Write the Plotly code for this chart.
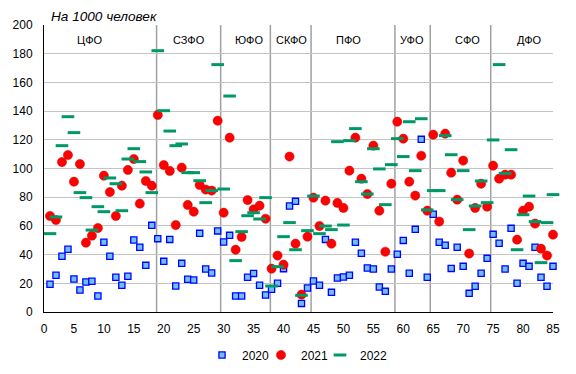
import plotly.graph_objects as go

# Region index (x position)
regions = list(range(1, 86))

v2020 = [19.3, 25.6, 38.8, 43.7, 23.0, 15.3, 20.9, 21.4, 11.2, 48.6,
         38.8, 24.2, 18.6, 24.9, 50.2, 45.1, 32.5, 60.4, 51.1, 35.3,
         50.6, 18.1, 33.9, 22.8, 22.3, 54.8, 30.0, 27.2, 56.5, 48.8,
         53.4, 11.2, 11.2, 24.2, 26.9, 18.6, 11.8, 15.8, 20.0, 30.2,
         73.9, 77.1, 6.0, 16.7, 21.6, 18.6, 50.6, 13.7, 23.7, 24.4,
         25.6, 48.6, 40.9, 30.7, 30.0, 17.4, 14.4, 30.0, 40.2, 49.9,
         27.0, 57.6, 120.3, 24.2, 68.1, 48.6, 46.5, 30.4, 45.1, 31.8,
         13.0, 17.9, 27.0, 37.4, 54.1, 47.9, 30.0, 58.3, 20.0, 33.9,
         31.8, 45.1, 24.2, 17.9, 31.8]

v2021 = [66.9, 64.1, 104.5, 109.4, 90.8, 103.1, 48.3, 53.2, 58.5, 95.0,
         83.6, 66.9, 88.0, 99.0, 106.6, 75.5, 91.3, 88.0, 137.3, 102.4,
         98.3, 60.6, 100.6, 74.6, 69.9, 88.5, 85.3, 84.6, 133.3, 69.2,
         121.5, 43.4, 52.3, 78.0, 71.5, 74.1, 65.0, 30.2, 39.3, 33.0,
         108.3, 47.6, 12.1, 52.5, 79.7, 59.9, 77.6, 47.6, 76.0, 72.5,
         98.5, 121.5, 92.9, 82.2, 115.9, 70.6, 42.0, 89.4, 132.6, 120.8,
         90.8, 81.1, 108.9, 70.6, 123.6, 63.0, 124.3, 97.1, 78.3, 105.5,
         40.7, 72.5, 89.4, 73.4, 102.0, 92.9, 95.7, 95.7, 50.4, 70.6,
         73.4, 61.6, 44.1, 39.3, 53.9]

v2022 = [54.6, 66.2, 115.9, 136.1, 125.0, 83.2, 79.7, 57.1, 73.4, 69.9,
         93.4, 89.4, 70.6, 106.6, 113.8, 104.8, 97.6, 83.2, 182.1, 140.3,
         126.1, 115.9, 117.1, 97.1, 97.1, 91.5, 76.2, 84.6, 172.4, 85.7,
         150.5, 35.8, 56.0, 67.1, 69.2, 64.8, 79.7, 18.1, 31.6, 52.5,
         62.3, 43.4, 11.6, 56.7, 80.8, 54.6, 59.9, 57.4, 118.7, 60.6,
         119.4, 127.8, 90.8, 82.2, 113.8, 99.7, 74.8, 102.7, 120.8, 108.3,
         132.6, 98.5, 134.7, 71.1, 84.6, 84.6, 122.9, 109.6, 78.3, 98.5,
         57.4, 73.9, 91.3, 76.2, 119.9, 172.4, 96.6, 113.1, 43.4, 67.8,
         80.8, 63.0, 34.4, 62.3, 81.8]

districts = ["ЦФО", "СЗФО", "ЮФО", "СКФО", "ПФО", "УФО", "СФО", "ДФО"]
district_label_x = [7.6, 24.2, 34.3, 41.4, 50.9, 61.5, 70.8, 81.0]
district_label_y = 189.8
dividers = [18.8, 29.5, 37.8, 44.6, 58.6, 64.5, 74.6]

x_ticks = list(range(0, 90, 5))
y_ticks = list(range(0, 220, 20))

FONT = "Arial, Liberation Sans, sans-serif"

fig = go.Figure()
fig.add_trace(go.Scatter(
    x=regions, y=v2020, mode="markers", name="2020", cliponaxis=False,
    marker=dict(symbol="square", size=6.2, color="#70c0ff",
                line=dict(color="#0000ff", width=1.3)),
))
fig.add_trace(go.Scatter(
    x=regions, y=v2021, mode="markers", name="2021", cliponaxis=False,
    marker=dict(symbol="circle", size=9.2, color="#ff0000",
                line=dict(color="#d00000", width=0.5)),
))
fig.add_trace(go.Scatter(
    x=regions, y=v2022, mode="markers", name="2022", cliponaxis=False,
    legendwidth=30,
    marker=dict(symbol="line-ew", size=9, color="#009966",
                line=dict(color="#009966", width=3)),
))

for d in dividers:
    fig.add_shape(type="line", xref="x", yref="y", x0=d, x1=d, y0=0, y1=200,
                  line=dict(color="#a0a0a0", width=1.5), layer="below")

for name, lx in zip(districts, district_label_x):
    fig.add_annotation(x=lx, y=district_label_y, xref="x", yref="y", text=name,
                       showarrow=False, font=dict(family=FONT, size=11, color="#000000"))

fig.update_layout(
    template="none",
    width=576, height=374,
    margin=dict(l=43.5, r=22.5, t=25, b=62, pad=0),
    paper_bgcolor="white", plot_bgcolor="white",
    font=dict(family=FONT, size=12, color="#000000"),
    title=dict(text="<i>На 1000 человек</i>", xref="container", yref="container",
               x=51 / 576, xanchor="left", y=1 - 16 / 374, yanchor="middle",
               font=dict(family=FONT, size=13.6, color="#000000")),
    showlegend=True,
    legend=dict(orientation="h", x=0.5, xanchor="center", xref="paper",
                yref="container", y=1 - 355 / 374, yanchor="middle",
                entrywidth=14, font=dict(family=FONT, size=12),
                bgcolor="rgba(0,0,0,0)", borderwidth=0),
    xaxis=dict(range=[0, 85], tickvals=x_ticks, showgrid=False, zeroline=False,
               showline=True, linecolor="#000000", linewidth=1, ticks="",
               automargin=False, ticklabelstandoff=6,
               tickfont=dict(family=FONT, size=12)),
    yaxis=dict(range=[0, 200], tickvals=y_ticks, showgrid=True, gridcolor="#c4c4c4",
               gridwidth=1, zeroline=False, showline=True, linecolor="#000000",
               linewidth=1, ticks="", ticklabelstandoff=8, automargin=False,
               tickfont=dict(family=FONT, size=12)),
)

fig.write_html("out.html", config={"displayModeBar": False},
               post_script="document.body.style.margin='0';document.body.style.padding='0';")
